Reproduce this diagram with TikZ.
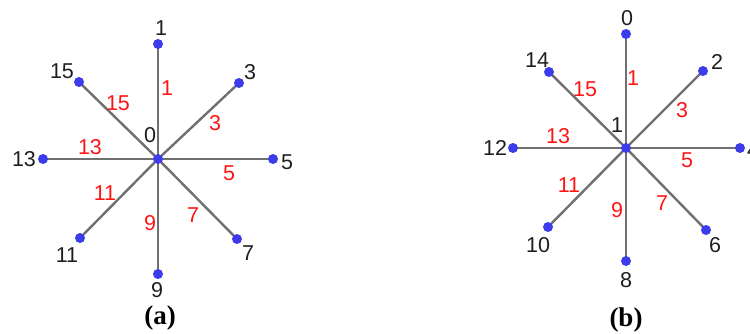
\documentclass[tikz,border=0pt]{standalone}
\usepackage{fontspec}
\setmainfont{Liberation Sans}
\newfontfamily\capfont{Liberation Serif}
\definecolor{dotblue}{RGB}{60,60,235}
\definecolor{spoke}{RGB}{112,112,112}
\definecolor{lblred}{RGB}{255,20,20}
\definecolor{lblblack}{RGB}{30,30,30}
\begin{document}
\begin{tikzpicture}[x=1pt,y=-1pt,
  dot/.style={circle,fill=dotblue,minimum size=10pt,inner sep=0pt},
  spk/.style={draw=spoke,line width=2.4pt},
  nl/.style={text=lblblack,font=\fontsize{21.5}{21.5}\selectfont,inner sep=0pt},
  el/.style={text=lblred,font=\fontsize{21.5}{21.5}\selectfont,inner sep=0pt},
  captext/.style={font=\capfont\bfseries\fontsize{27}{27}\selectfont,inner sep=0pt}]
\useasboundingbox (0,0) rectangle (750,334);
% ---- panel (a)
\coordinate (a0) at (158,159);
\coordinate (a1) at (158,44);
\coordinate (a3) at (239,83);
\coordinate (a5) at (273,159);
\coordinate (a7) at (237,239);
\coordinate (a9) at (158,274);
\coordinate (a11) at (80,238);
\coordinate (a13) at (43,159);
\coordinate (a15) at (79,82);
\foreach \k in {1,3,5,7,9,11,13,15} \draw[spk] (a0) -- (a\k);
\foreach \k in {0,1,3,5,7,9,11,13,15} \node[dot] (da\k) at (a\k) {};
\node[nl] (la1) at (161,28) {1};
\node[nl] (la3) at (250,72) {3};
\node[nl] (la5) at (287,162) {5};
\node[nl] (la7) at (248,253) {7};
\node[nl] (la9) at (157,290) {9};
\node[nl] (la11) at (67,255) {11};
\node[nl] (la13) at (24,159) {13};
\node[nl] (la15) at (62,71) {15};
\node[nl] (la0) at (150,135) {0};
\node[el] (ea1) at (167,88) {1};
\node[el] (ea3) at (215,123) {3};
\node[el] (ea5) at (229,173) {5};
\node[el] (ea7) at (193,215) {7};
\node[el] (ea9) at (150,223) {9};
\node[el] (ea11) at (105,193) {11};
\node[el] (ea13) at (90,147) {13};
\node[el] (ea15) at (118,103) {15};
\node[captext] (capa) at (160,318) {(a)};
% ---- panel (b)
\coordinate (b1) at (626,148);
\coordinate (b0) at (626,34);
\coordinate (b2) at (703,71);
\coordinate (b4) at (740,148);
\coordinate (b6) at (706,230);
\coordinate (b8) at (626,261);
\coordinate (b10) at (548,227);
\coordinate (b12) at (513,148);
\coordinate (b14) at (549,72);
\foreach \k in {0,2,4,6,8,10,12,14} \draw[spk] (b1) -- (b\k);
\foreach \k in {0,1,2,4,6,8,10,12,14} \node[dot] (db\k) at (b\k) {};
\node[nl] (lb0) at (627,18) {0};
\node[nl] (lb2) at (717,62) {2};
\node[nl] (lb4) at (753,150) {4};
\node[nl] (lb6) at (715,245) {6};
\node[nl] (lb8) at (626,280) {8};
\node[nl] (lb10) at (538,245) {10};
\node[nl] (lb12) at (495,148) {12};
\node[nl] (lb14) at (537,60) {14};
\node[nl] (lb1) at (617,125) {1};
\node[el] (eb1) at (633,78) {1};
\node[el] (eb3) at (682,110) {3};
\node[el] (eb5) at (687,160) {5};
\node[el] (eb7) at (662,203) {7};
\node[el] (eb9) at (617,210) {9};
\node[el] (eb11) at (569,185) {11};
\node[el] (eb13) at (558,136) {13};
\node[el] (eb15) at (585,89) {15};
\node[captext] (capb) at (626,320) {(b)};
\end{tikzpicture}
\end{document}
